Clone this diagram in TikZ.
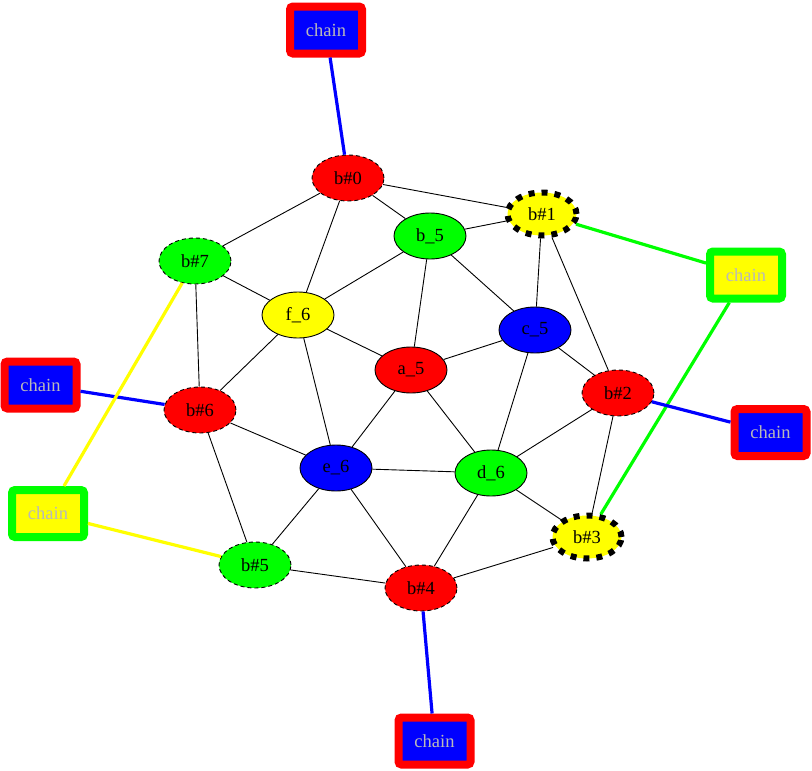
\documentclass[tikz,border=0pt]{standalone}
\usepackage{fontspec}
\setmainfont{Liberation Serif}
\usetikzlibrary{shapes.geometric}
\definecolor{gvgreen}{RGB}{0,255,0}
\definecolor{gvred}{RGB}{255,0,0}
\definecolor{gvblue}{RGB}{0,0,255}
\definecolor{gvyellow}{RGB}{255,255,0}
\definecolor{gvgray}{RGB}{185,185,185}
\tikzset{
  nd/.style={ellipse, draw=black, line width=0.9pt, minimum width=72pt, minimum height=46pt, inner sep=0pt,
    font=\fontsize{18.5}{20}\selectfont},
  thind/.style={nd, dash pattern=on 4pt off 3pt},
  thickd/.style={nd, line width=6pt, dash pattern=on 6pt off 7pt, minimum width=69pt, minimum height=43pt},
  chainbox/.style={rectangle, rounded corners=3pt, line width=8pt, minimum width=72pt, minimum height=47pt,
    inner sep=0pt, text=gvgray, font=\fontsize{18.5}{20}\selectfont},
  redch/.style={chainbox, draw=gvred, fill=gvblue},
  greench/.style={chainbox, draw=gvgreen, fill=gvyellow},
  ed/.style={draw=black, line width=0.9pt},
  ced/.style={line width=3.2pt},
}
\begin{document}
\begin{tikzpicture}[x=1pt,y=-1pt]
\useasboundingbox (0,0) rectangle (812,771);
% nodes
\node[thind, fill=gvred] (b0) at (348,178) {b\#0};
\node[thickd, fill=gvyellow] (b1) at (542,214) {b\#1};
\node[nd, fill=gvgreen] (b5n) at (430,236) {b\_5};
\node[thind, fill=gvgreen] (b7) at (195,261) {b\#7};
\node[nd, fill=gvyellow] (f6) at (298,315) {f\_6};
\node[nd, fill=gvblue] (c5) at (535,330) {c\_5};
\node[nd, fill=gvred] (a5) at (411,370) {a\_5};
\node[thind, fill=gvred] (b2) at (618,393) {b\#2};
\node[thind, fill=gvred] (b6) at (200,410) {b\#6};
\node[nd, fill=gvblue] (e6) at (336,468) {e\_6};
\node[nd, fill=gvgreen] (d6) at (491,473) {d\_6};
\node[thickd, fill=gvyellow] (b3) at (587,537) {b\#3};
\node[thind, fill=gvgreen] (b5) at (255,565) {b\#5};
\node[thind, fill=gvred] (b4) at (421,588) {b\#4};
% chain boxes
\node[redch] (chT) at (326,30) {chain};
\node[greench] (chR1) at (746,275) {chain};
\node[redch] (chL1) at (40.5,385) {chain};
\node[redch] (chR2) at (770.5,432.5) {chain};
\node[greench] (chL2) at (48,513.5) {chain};
\node[redch] (chB) at (434.5,741) {chain};
% black edges
\foreach \a/\b in {b0/b1,b0/b5n,b0/b7,b0/f6,b5n/b1,b5n/f6,b5n/a5,b5n/c5,b1/c5,b1/b2,
  b7/f6,b7/b6,f6/b6,f6/a5,f6/e6,c5/a5,c5/b2,c5/d6,a5/e6,a5/d6,b2/d6,b2/b3,
  b6/e6,b6/b5,e6/d6,e6/b5,e6/b4,d6/b4,d6/b3,b5/b4,b4/b3}
  \draw[ed] (\a) -- (\b);
% coloured edges
\draw[ced, gvblue] (chT) -- (b0);
\draw[ced, gvgreen] (chR1) -- (b1);
\draw[ced, gvgreen] (chR1) -- (b3);
\draw[ced, gvblue] (chL1) -- (b6);
\draw[ced, gvblue] (chR2) -- (b2);
\draw[ced, gvyellow] (chL2) -- (b7);
\draw[ced, gvyellow] (chL2) -- (b5);
\draw[ced, gvblue] (chB) -- (b4);
\end{tikzpicture}
\end{document}
